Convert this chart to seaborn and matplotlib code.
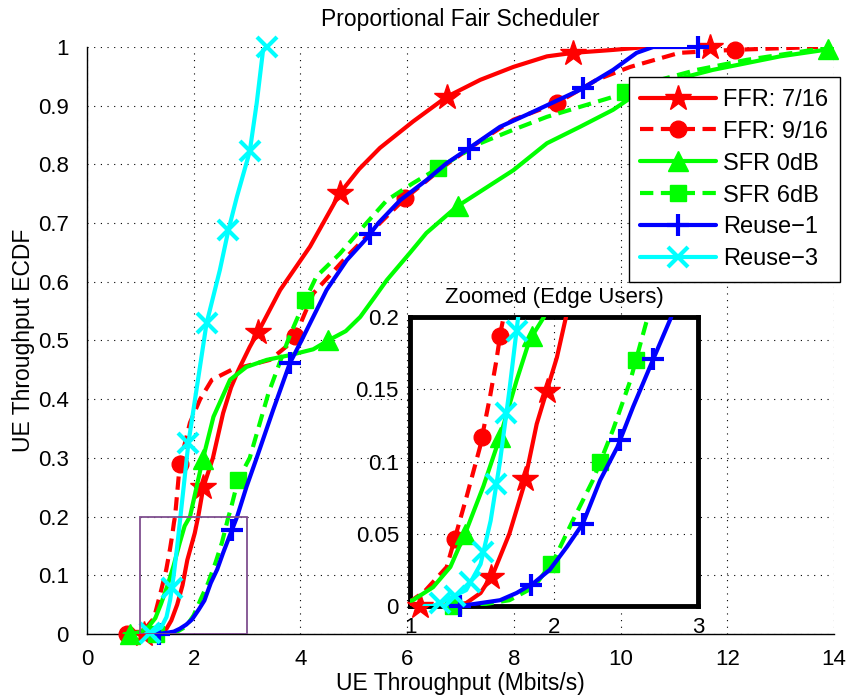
import numpy as np
import matplotlib
matplotlib.use("Agg")
import matplotlib.pyplot as plt
from matplotlib.lines import Line2D
from matplotlib.patches import Rectangle
import seaborn as sns

# ---------------------------------------------------------------- data
labels = ["FFR: 7/16", "FFR: 9/16", "SFR 0dB", "SFR 6dB", "Reuse\u22121", "Reuse\u22123"]

# ECDF curves (throughput in Mbit/s, cumulative probability)
ffr7_x = [0.95, 1.07, 1.25, 1.39, 1.49, 1.58, 1.69, 1.79, 1.88, 1.95, 2.02, 2.09, 2.18, 2.36,
          2.55, 2.70, 2.84, 3.05, 3.24, 3.62, 4.18, 4.74, 5.10, 5.49, 6.11, 6.74, 7.37, 7.99,
          8.62, 9.11, 9.86, 10.49, 11.70]
ffr7_y = [0.0, 0.0, 0.0003, 0.002, 0.009, 0.023, 0.050, 0.083, 0.126, 0.149, 0.172, 0.203, 0.25,
          0.30, 0.376, 0.42, 0.45, 0.489, 0.52, 0.586, 0.66, 0.751, 0.792, 0.828, 0.873, 0.915,
          0.944, 0.966, 0.984, 0.99, 0.995, 1.0, 1.0]

ffr9_x = [0.70, 0.85, 1.00, 1.10, 1.255, 1.394, 1.486, 1.556, 1.60, 1.63, 1.65, 1.74, 1.93, 2.12,
          2.34, 2.71, 3.43, 3.74, 3.90, 4.24, 4.87, 5.49, 5.96, 6.74, 7.37, 7.99, 8.80, 9.55,
          10.18, 11.10, 12.10, 13.70]
ffr9_y = [0.0, 0.0, 0.003, 0.010, 0.027, 0.076, 0.110, 0.145, 0.17, 0.19, 0.20, 0.29, 0.36, 0.40,
          0.433, 0.45, 0.467, 0.49, 0.507, 0.58, 0.643, 0.70, 0.742, 0.80, 0.84, 0.876, 0.904,
          0.944, 0.966, 0.99, 0.995, 1.0]

sfr0_x = [0.70, 0.85, 1.02, 1.16, 1.28, 1.39, 1.51, 1.625, 1.74, 1.83, 1.93, 2.15, 2.37, 2.68,
          2.99, 3.37, 3.80, 4.24, 4.52, 4.85, 5.12, 5.40, 5.62, 6.05, 6.36, 6.93, 7.99, 8.62,
          9.24, 9.86, 10.49, 11.73, 12.99, 13.90, 14.0]
sfr0_y = [0.0, 0.0, 0.004, 0.013, 0.027, 0.052, 0.083, 0.117, 0.156, 0.184, 0.20, 0.29, 0.37,
          0.433, 0.455, 0.467, 0.475, 0.485, 0.50, 0.516, 0.540, 0.575, 0.603, 0.649, 0.683,
          0.728, 0.79, 0.836, 0.864, 0.893, 0.932, 0.961, 0.984, 0.996, 0.998]

sfr6_x = [1.20, 1.30, 1.50, 1.69, 1.86, 2.00, 2.13, 2.27, 2.41, 2.53, 2.64, 2.70, 2.83, 3.05,
          3.40, 3.79, 4.09, 4.30, 4.74, 5.12, 5.62, 6.11, 6.74, 7.37, 7.99, 8.62, 9.24, 9.86,
          10.49, 11.43, 12.36, 13.60, 14.0]
sfr6_y = [0.0, 0.0, 0.001, 0.004, 0.013, 0.032, 0.059, 0.087, 0.122, 0.156, 0.196, 0.215, 0.262,
          0.30, 0.41, 0.506, 0.569, 0.609, 0.648, 0.688, 0.739, 0.768, 0.802, 0.836, 0.859,
          0.881, 0.898, 0.915, 0.938, 0.961, 0.978, 0.995, 0.998]

reuse1_x = [1.25, 1.35, 1.625, 1.74, 1.86, 1.97, 2.09, 2.20, 2.32, 2.44, 2.55, 2.69, 2.81, 2.99,
            3.18, 3.49, 3.80, 4.02, 4.49, 4.87, 5.24, 5.46, 5.87, 6.36, 6.74, 7.15, 7.74, 8.30,
            9.24, 9.86, 10.30, 10.61, 11.46]
reuse1_y = [0.0, 0.0, 0.004, 0.009, 0.016, 0.025, 0.041, 0.057, 0.087, 0.110, 0.138, 0.171, 0.199,
            0.251, 0.30, 0.382, 0.461, 0.50, 0.586, 0.637, 0.674, 0.70, 0.739, 0.773, 0.802,
            0.827, 0.864, 0.887, 0.927, 0.961, 0.99, 1.0, 1.0]

reuse3_x = [1.10, 1.16, 1.39, 1.49, 1.56, 1.625, 1.69, 1.75, 1.90, 2.24, 2.49, 2.65, 2.81, 3.05,
            3.18, 3.30, 3.37]
reuse3_y = [0.0, 0.0, 0.011, 0.029, 0.059, 0.10, 0.149, 0.199, 0.325, 0.529, 0.62, 0.688, 0.745,
            0.822, 0.904, 0.995, 1.0]

# throughput values where markers sit (full view / zoomed view)
ffr7_mk = [1.07, 2.18, 3.21, 4.74, 6.74, 9.11, 11.68]
ffr9_mk = [0.75, 1.74, 3.90, 5.96, 8.80, 12.14]
sfr0_mk = [0.80, 2.17, 4.52, 6.96, 10.45, 13.89]
sfr6_mk = [1.30, 2.83, 4.09, 6.58, 10.08]
reuse1_mk = [1.35, 2.72, 3.80, 5.30, 7.15, 9.30, 11.46]
reuse3_mk = [1.18, 1.59, 1.90, 2.24, 2.65, 3.05, 3.37]

ffr7_mk_zoom = [1.07, 1.56, 1.80, 1.95]
ffr9_mk_zoom = [1.31, 1.50, 1.625]
sfr0_mk_zoom = [1.38, 1.625, 1.85]
sfr6_mk_zoom = [1.30, 1.98, 2.32, 2.57]
reuse1_mk_zoom = [1.35, 1.84, 2.20, 2.46, 2.69]
reuse3_mk_zoom = [1.21, 1.31, 1.42, 1.51, 1.60, 1.67, 1.74]

main_xticks = [0, 2, 4, 6, 8, 10, 12, 14]
main_yticks = [0, 0.1, 0.2, 0.3, 0.4, 0.5, 0.6, 0.7, 0.8, 0.9, 1.0]
main_ytick_labels = ["0", "0.1", "0.2", "0.3", "0.4", "0.5", "0.6", "0.7", "0.8", "0.9", "1"]
zoom_xticks = [1, 2, 3]
zoom_yticks = [0, 0.05, 0.1, 0.15, 0.2]
zoom_ytick_labels = ["0", "0.05", "0.1", "0.15", "0.2"]

# ---------------------------------------------------------------- style
sns.set_theme(style="white")
plt.rcParams["font.family"] = ["Liberation Sans", "DejaVu Sans"]
plt.rcParams["axes.edgecolor"] = "black"
plt.rcParams["xtick.color"] = "black"
plt.rcParams["ytick.color"] = "black"
plt.rcParams["text.color"] = "black"
plt.rcParams["axes.labelcolor"] = "black"

DASH = (0, (3.2, 1.8))
series = [
    dict(x=ffr7_x, y=ffr7_y, mk=ffr7_mk, mkz=ffr7_mk_zoom, color="#ff0000", ls="-", marker="*", ms=19, mew=1),
    dict(x=ffr9_x, y=ffr9_y, mk=ffr9_mk, mkz=ffr9_mk_zoom, color="#ff0000", ls=DASH, marker="o", ms=12, mew=1),
    dict(x=sfr0_x, y=sfr0_y, mk=sfr0_mk, mkz=sfr0_mk_zoom, color="#00ff00", ls="-", marker="^", ms=14, mew=1),
    dict(x=sfr6_x, y=sfr6_y, mk=sfr6_mk, mkz=sfr6_mk_zoom, color="#00ff00", ls=DASH, marker="s", ms=11, mew=1),
    dict(x=reuse1_x, y=reuse1_y, mk=reuse1_mk, mkz=reuse1_mk_zoom, color="#0000ff", ls="-", marker="+", ms=16, mew=3),
    dict(x=reuse3_x, y=reuse3_y, mk=reuse3_mk, mkz=reuse3_mk_zoom, color="#00ffff", ls="-", marker="x", ms=15, mew=3),
]
LW = 3.0
FS = 16


def draw_series(ax, s, markers, z):
    sns.lineplot(x=s["x"], y=s["y"], ax=ax, color=s["color"], linewidth=LW,
                 linestyle=s["ls"], sort=False, estimator=None, zorder=z)
    my = np.interp(markers, s["x"], s["y"])
    ax.plot(markers, my, ls="none", marker=s["marker"], ms=s["ms"], mfc=s["color"],
            mec=s["color"], mew=s["mew"], zorder=z, clip_on=False)


def grid_style(ax):
    ax.grid(True, color="black", linestyle=(0, (1, 5)), linewidth=0.8)


fig = plt.figure(figsize=(8.48, 6.98), dpi=100)

# ---------------------------------------------------------------- full view
ax = fig.add_axes([0.1026, 0.0917, 0.8809, 0.841])
for i, s in enumerate(series):
    draw_series(ax, s, s["mk"], 3 + i)
ax.set_xlim(0, 14)
ax.set_ylim(0, 1)
ax.set_xticks(main_xticks)
ax.set_yticks(main_yticks)
ax.set_yticklabels(main_ytick_labels)
grid_style(ax)
for side in ("top", "right"):
    ax.spines[side].set_visible(False)
for side in ("left", "bottom"):
    ax.spines[side].set_linewidth(1.0)
ax.tick_params(direction="in", length=4, width=0.8, labelsize=FS)
ax.tick_params(axis="y", pad=13)
ax.tick_params(axis="x", pad=11)
ax.set_xlabel("UE Throughput (Mbits/s)", fontsize=FS + 0.5, labelpad=1)
ax.set_ylabel("UE Throughput ECDF", fontsize=FS + 0.5, labelpad=2)
ax.set_title("Proportional Fair Scheduler", fontsize=FS + 0.5, pad=15)
ax.add_patch(Rectangle((1, 0), 2, 0.2, fill=False, edgecolor="#7f4f8f", linewidth=1.3, zorder=10))

# ---------------------------------------------------------------- zoomed view
axz = fig.add_axes([0.4835, 0.1318, 0.3396, 0.414])
axz.set_facecolor("white")
for i, s in enumerate(series):
    draw_series(axz, s, s["mkz"], 3 + i)
axz.set_xlim(1, 3)
axz.set_ylim(0, 0.2)
axz.set_xticks(zoom_xticks)
axz.set_yticks(zoom_yticks)
axz.set_yticklabels(zoom_ytick_labels)
grid_style(axz)
for side in axz.spines.values():
    side.set_linewidth(3.5)
axz.tick_params(direction="in", length=4, width=0.8, labelsize=FS, pad=8)
axz.set_title("Zoomed (Edge Users)", fontsize=FS, pad=10)

# ---------------------------------------------------------------- legend
handles = [Line2D([], [], color=s["color"], lw=LW, linestyle=s["ls"], marker=s["marker"],
                  ms=s["ms"], mfc=s["color"], mec=s["color"], mew=s["mew"]) for s in series]
leg = fig.legend(handles, labels, loc="upper right", bbox_to_anchor=(0.9906, 0.8897),
                 fontsize=FS + 1, frameon=True, fancybox=False, framealpha=1, edgecolor="black",
                 handlelength=3.2, handletextpad=0.3, labelspacing=0.42, borderpad=0.5,
                 borderaxespad=0)
leg.get_frame().set_linewidth(1.0)

fig.savefig("out.png", dpi=100)
